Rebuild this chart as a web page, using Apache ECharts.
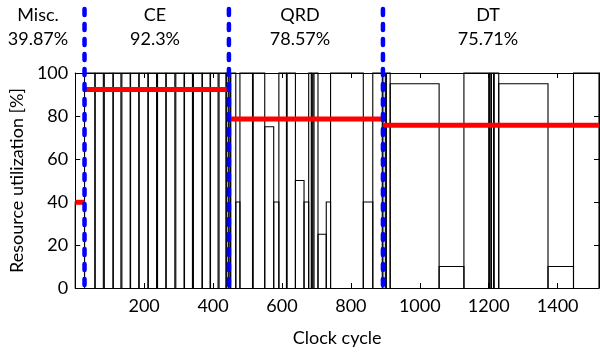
<!DOCTYPE html>
<html>
<head>
<meta charset="utf-8">
<script src="https://cdn.jsdelivr.net/npm/echarts@6/dist/echarts.min.js"></script>
<style>html,body{margin:0;padding:0;background:#fff;}#c{width:600px;height:352px;}</style>
</head>
<body>
<div id="c"></div>
<script>
// ---- data ----
const segNames = ['Misc.', 'CE', 'QRD', 'DT'];
const segPercents = ['39.87%', '92.3%', '78.57%', '75.71%'];
const segStarts = [0, 27, 446, 893];
const segEnds = [27, 446, 893, 1520];
const segAvg = [39.87, 92.3, 78.57, 75.71];
const boundaries = [27, 446, 893];
const xTicks = [200, 400, 600, 800, 1000, 1200, 1400];
const yTicks = [0, 20, 40, 60, 80, 100];
// utilization trace: value holds from cycle until next cycle (last cycle = end)
const stepCycles = [0, 27, 56.8, 58, 81.6, 84.4, 109.4, 110.6, 132.6, 135.4, 159.4, 160.6, 184.4, 185.6, 210.9, 212.1, 236.1, 238.9, 262.9, 264.1, 289.1, 291.9, 315.9, 317.1, 340.2, 343, 367.9, 369.1, 391.4, 392.6, 414.6, 417.4, 437.4, 438.6, 444, 446, 450, 451.5, 466, 478, 514.5, 516.5, 550, 576, 591, 613, 615, 639, 664, 677.5, 685, 686.5, 690, 693, 704.5, 728.5, 741, 836, 863.5, 891, 893, 900, 903, 914, 1056, 1128, 1200, 1202, 1206, 1208, 1214, 1216, 1229, 1372, 1446, 1520];
const stepValues = [40, 100, 0, 100, 0, 100, 0, 100, 0, 100, 0, 100, 0, 100, 0, 100, 0, 100, 0, 100, 0, 100, 0, 100, 0, 100, 0, 100, 0, 100, 0, 100, 0, 100, 0, 100, 0, 100, 40, 100, 0, 100, 75, 40, 100, 0, 100, 50, 40, 100, 0, 100, 0, 100, 25, 40, 100, 40, 100, 0, 100, 0, 100, 95, 10, 100, 0, 100, 0, 100, 0, 100, 95, 10, 100, 100];

const FONT = 'Lato';
const rectData = [];
for (let i = 0; i < stepCycles.length - 1; i++) {
  rectData.push([stepCycles[i], stepCycles[i + 1], stepValues[i]]);
}
const avgData = segStarts.map((s, i) => [s, segEnds[i], segAvg[i]]);
const boundData = boundaries.map(b => [b]);

const chart = echarts.init(document.getElementById('c'));
const axisCommon = {
  axisLine: { show: true, onZero: false, lineStyle: { color: '#000', width: 1 } },
  axisTick: { inside: true, length: 5, lineStyle: { color: '#000' } },
  splitLine: { show: false }
};
chart.setOption({
  animation: false,
  backgroundColor: '#fff',
  grid: { left: 73, right: 1, top: 73, bottom: 52, containLabel: false },
  xAxis: [
    Object.assign({
      type: 'value', min: 0, max: 1520, interval: 200, position: 'bottom',
      name: 'Clock cycle', nameLocation: 'middle', nameGap: 41,
      nameTextStyle: { fontFamily: FONT, fontSize: 18, color: '#000' },
      axisLabel: {
        fontFamily: FONT, fontSize: 18, color: '#000', margin: 9,
        showMaxLabel: false,
        formatter: v => xTicks.indexOf(v) >= 0 ? String(v) : ''
      }
    }, axisCommon),
    Object.assign({
      type: 'value', min: 0, max: 1520, interval: 200, position: 'top',
      axisLabel: { show: false }
    }, axisCommon)
  ],
  yAxis: [
    Object.assign({
      type: 'value', min: 0, max: 100, interval: 20, position: 'left',
      name: 'Resource utilization [%]', nameLocation: 'middle', nameGap: 47,
      nameTextStyle: { fontFamily: FONT, fontSize: 18, color: '#000' },
      axisLabel: {
        fontFamily: FONT, fontSize: 18, color: '#000', margin: 7,
        formatter: v => yTicks.indexOf(v) >= 0 ? String(v) : ''
      }
    }, axisCommon),
    Object.assign({
      type: 'value', min: 0, max: 100, interval: 20, position: 'right',
      axisLabel: { show: false }
    }, axisCommon)
  ],
  series: [
    {
      type: 'custom', data: rectData, z: 2, silent: true,
      renderItem: (params, api) => {
        const p0 = api.coord([api.value(0), 0]);
        const p1 = api.coord([api.value(1), api.value(2)]);
        if (api.value(2) <= 0) return null;
        return { type: 'polyline',
          shape: { points: [[p0[0], p0[1]], [p0[0], p1[1]], [p1[0], p1[1]], [p1[0], p0[1]]] },
          style: { stroke: '#000', lineWidth: 1.1, fill: null } };
      }
    },
    {
      type: 'custom', data: avgData, z: 3, silent: true,
      renderItem: (params, api) => {
        const p1 = api.coord([api.value(0), api.value(2)]);
        const p2 = api.coord([api.value(1), api.value(2)]);
        return { type: 'line', shape: { x1: p1[0], y1: p1[1], x2: p2[0], y2: p2[1] },
          style: { stroke: '#ff0000', lineWidth: 5, lineCap: 'butt' } };
      }
    },
    {
      type: 'custom', data: boundData, z: 4, silent: true, clip: false,
      renderItem: (params, api) => {
        const p = api.coord([api.value(0), 0]);
        return { type: 'line', shape: { x1: p[0], y1: 9, x2: p[0], y2: p[1] },
          style: { stroke: '#0000ff', lineWidth: 4.5, lineCap: 'round', lineDash: [6, 9] } };
      }
    }
  ]
});

// segment labels above the plot
const labelX = [38, 155, 300, 488];
const g = [];
segNames.forEach((n, i) => {
  g.push({ type: 'text', x: labelX[i], y: 15, style: { text: n, fontFamily: FONT, fontSize: 18, fill: '#000', align: 'center', verticalAlign: 'middle' } });
  g.push({ type: 'text', x: labelX[i], y: 39, style: { text: segPercents[i], fontFamily: FONT, fontSize: 18, fill: '#000', align: 'center', verticalAlign: 'middle' } });
});
chart.setOption({ graphic: g });
</script>
</body>
</html>
